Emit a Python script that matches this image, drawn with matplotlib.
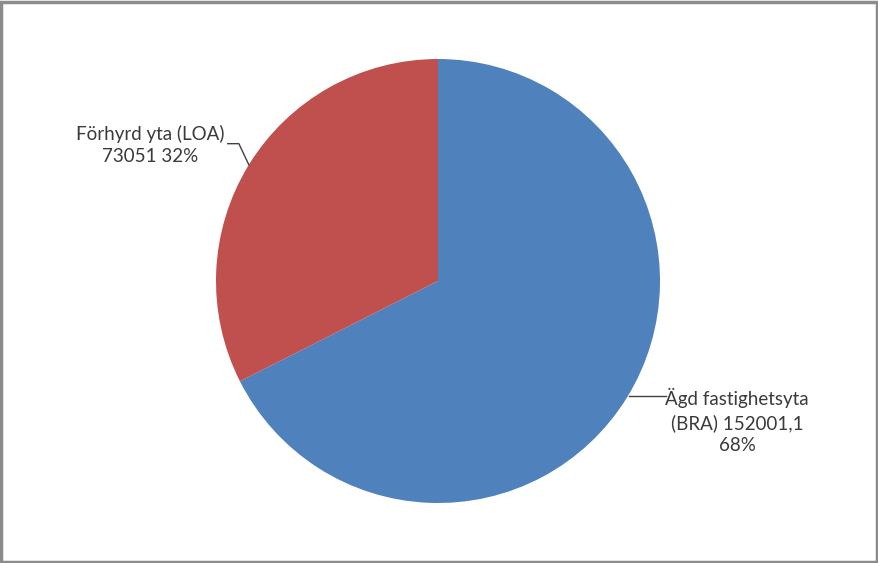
import numpy as np
import matplotlib.pyplot as plt

# ============================================================
# DATA
# ============================================================

LABELS = ["Ägd fastighetsyta\n(BRA) 152001,1\n68%", "Förhyrd yta (LOA)\n73051 32%"]
VALUES = [152001.1, 73051]
COLORS = ["#4F81BD", "#C0504D"]

# ============================================================
# FIGURE
# ============================================================

W, H = 879, 563
fig = plt.figure(figsize=(W / 100, H / 100), dpi=100)
fig.patch.set_facecolor("white")

# pie centre and radius in pixels
cx, cy, r = 438, 281, 222
ax = fig.add_axes([(cx - r) / W, (H - cy - r) / H, 2 * r / W, 2 * r / H])

wedges, _ = ax.pie(VALUES, colors=COLORS, startangle=90, counterclock=False,
                   radius=1.0, wedgeprops=dict(linewidth=0))
ax.set_xlim(-1, 1)
ax.set_ylim(-1, 1)
ax.set_aspect("equal")
ax.axis("off")

font = ["Lato", "DejaVu Sans"]
fs = 13.5
tcol = "#3A3A3A"

# right label (blue)
w = wedges[0]
ang = np.deg2rad((w.theta1 + w.theta2) / 2)
x0, y0 = np.cos(ang), np.sin(ang)
ax.plot([x0 + 0.01, 1.025], [y0 + 0.005, y0 + 0.005], color="#404040", lw=1, clip_on=False)
ax.text(1.347, -0.632, LABELS[0], ha="center", va="center", multialignment="center",
        fontsize=fs, family=font, color=tcol, linespacing=1.38)

# left label (red)
w = wedges[1]
ang = np.deg2rad((w.theta1 + w.theta2) / 2)
x0, y0 = np.cos(ang), np.sin(ang)
ax.plot([x0, x0 - 0.045, x0 - 0.095], [y0, y0 + 0.095, y0 + 0.095],
        color="#404040", lw=1, clip_on=False)
ax.text(-1.297, 0.613, LABELS[1], ha="center", va="center", multialignment="center",
        fontsize=fs, family=font, color=tcol, linespacing=1.38)

# gray border
border = plt.Rectangle((0.0015, 0.002), 0.996, 0.995, transform=fig.transFigure,
                       fill=False, edgecolor="#8C8C8C", linewidth=2.5)
fig.patches.append(border)

fig.savefig("out.png", dpi=100)
